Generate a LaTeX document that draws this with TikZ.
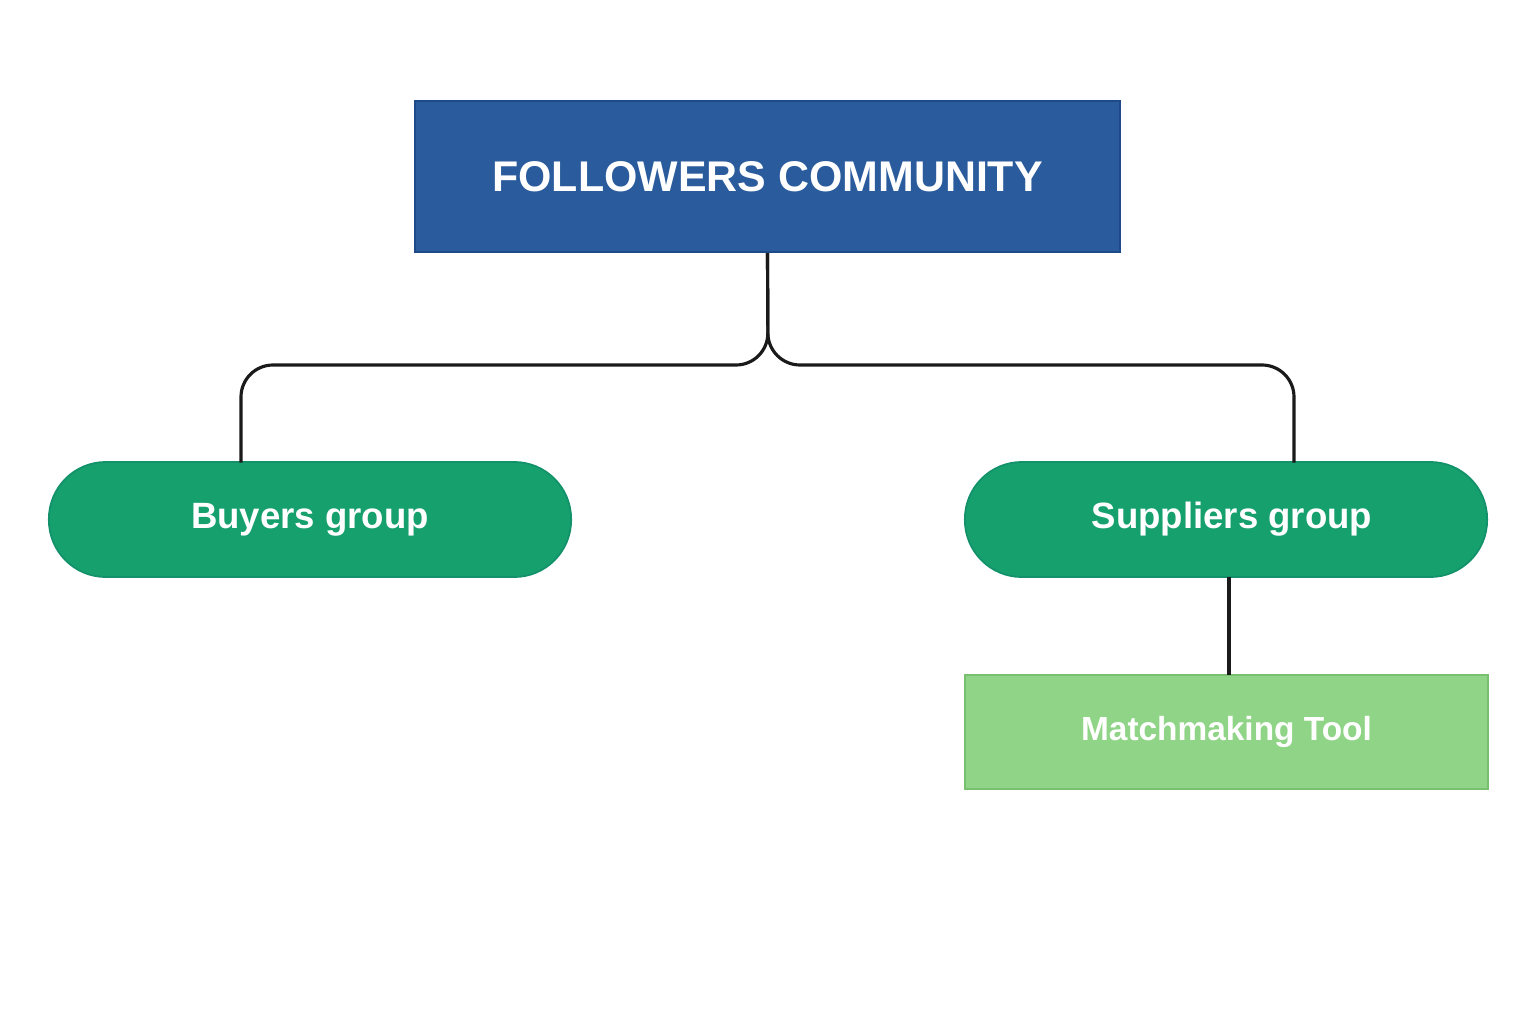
\documentclass[tikz,border=0pt]{standalone}
\usepackage{fontspec}
\setmainfont{Liberation Sans}
\begin{document}
\begin{tikzpicture}[x=0.01cm,y=-0.01cm,
  topbox/.style={draw=topborder, line width=0.6pt, fill=topblue, text=white, font=\fontsize{12.2}{14}\selectfont\bfseries, minimum width=7.05cm, minimum height=1.51cm, inner sep=0pt},
  pill/.style={draw=pillborder, line width=0.5pt, fill=pillgreen, text=white, font=\fontsize{10.4}{12}\selectfont\bfseries, minimum width=5.22cm, minimum height=1.15cm, rounded corners=0.57cm, inner sep=0pt},
  toolbox/.style={draw=toolborder, line width=0.6pt, fill=toolgreen, text=white, font=\fontsize{9.5}{11}\selectfont\bfseries, minimum width=5.23cm, minimum height=1.14cm, inner sep=0pt},
  link/.style={draw=linkcol, line width=0.9pt, rounded corners=0.32cm}
]
\definecolor{topblue}{HTML}{2A5B9C}
\definecolor{topborder}{HTML}{1F4A8A}
\definecolor{pillgreen}{HTML}{16A06E}
\definecolor{pillborder}{HTML}{13916A}
\definecolor{toolgreen}{HTML}{90D587}
\definecolor{toolborder}{HTML}{78BF70}
\definecolor{linkcol}{HTML}{1A1A1A}
\useasboundingbox (0,0) rectangle (1536,1024);
\node[topbox] (top) at (767.5,176.5) {FOLLOWERS COMMUNITY};
\node[pill] (buy) at (310,519.5) {Buyers group};
\node[pill] (sup) at (1226,519.5) {\hspace*{0.12cm}Suppliers group};
\node[toolbox] (tool) at (1226.5,732) {Matchmaking Tool};
\coordinate (fork) at (768,365);
\coordinate (bj) at (241,462.5);
\coordinate (sj) at (1294,462.5);
\coordinate (ms) at (1229,577);
\coordinate (mt) at (1229,675);
\path[link] (top.south) -- (fork) -| (bj);
\path[link] (top.south) -- (fork) -| (sj);
\path[link] (ms) -- (mt);
\end{tikzpicture}
\end{document}
